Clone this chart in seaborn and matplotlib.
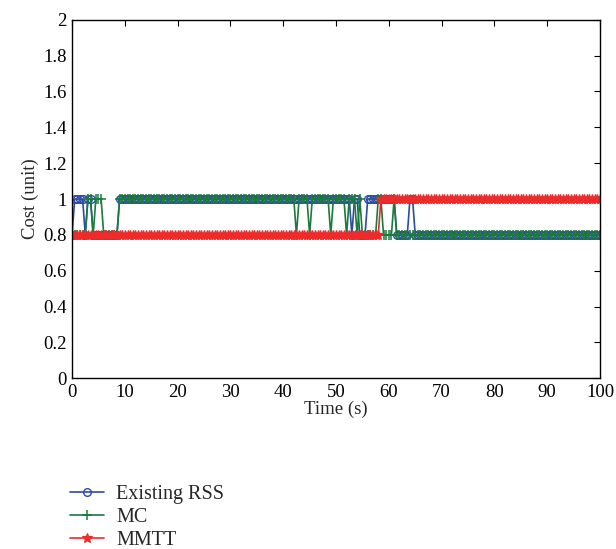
import numpy as np
import pandas as pd
import matplotlib
matplotlib.use("Agg")
import matplotlib.pyplot as plt
import seaborn as sns

# ------------------------------------------------------------
# Data: change points (time s, cost) -
# each level holds from that time until the next change point
# ------------------------------------------------------------
time_step = 0.5
time_max = 100

rss_changes = [(0.0, 0.8), (0.5, 1.0), (2.5, 0.8), (3.0, 1.0), (4.0, 0.8),
               (9.0, 1.0), (53.0, 0.8), (53.5, 1.0), (54.5, 0.8), (56.0, 1.0),
               (61.5, 0.8), (64.0, 1.0), (65.0, 0.8)]
mc_changes = [(0.0, 0.8), (3.0, 1.0), (4.0, 0.8), (4.5, 1.0), (6.0, 0.8),
              (9.0, 1.0), (42.5, 0.8), (43.0, 1.0), (45.0, 0.8), (45.5, 1.0),
              (49.0, 0.8), (49.5, 1.0), (52.0, 0.8), (52.5, 1.0), (54.0, 0.8),
              (54.5, 1.0), (55.0, 0.8), (58.0, 1.0), (59.0, 0.8), (61.0, 1.0),
              (61.5, 0.8)]
mmtt_changes = [(0.0, 0.8), (58.5, 1.0)]

series_names = ["Existing RSS", "MC", "MMTT"]
series_colors = ["#2B4BA5", "#1B7A3C", "#EE2B2B"]
y_ticks = [0, 0.2, 0.4, 0.6, 0.8, 1, 1.2, 1.4, 1.6, 1.8, 2]
x_ticks = [0, 10, 20, 30, 40, 50, 60, 70, 80, 90, 100]

times = np.arange(0, time_max + time_step / 2, time_step)


def expand(changes):
    starts = np.array([c[0] for c in changes])
    levels = np.array([c[1] for c in changes])
    return levels[np.searchsorted(starts, times, side="right") - 1]


df = pd.DataFrame({"Time": times,
                   "Existing RSS": expand(rss_changes),
                   "MC": expand(mc_changes),
                   "MMTT": expand(mmtt_changes)})

sns.set_theme(style="white")
plt.rcParams["font.family"] = ["Liberation Serif", "DejaVu Serif"]

fig = plt.figure(figsize=(6.16, 5.49), dpi=100)
ax = fig.add_axes([0.117, 0.311, 0.857, 0.653])

styles = [dict(marker="o", markersize=5.5, markerfacecolor="none", markeredgewidth=1.0),
          dict(marker="+", markersize=7, markeredgewidth=1.1),
          dict(marker="*", markersize=7, markeredgewidth=0.9)]

for name, color, st in zip(series_names, series_colors, styles):
    sns.lineplot(data=df, x="Time", y=name, ax=ax, color=color, linewidth=1.2,
                 label=name, markeredgecolor=color, **st)

ax.set_xlim(0, 100)
ax.set_ylim(0, 2)
ax.set_xticks(x_ticks)
ax.set_yticks(y_ticks)
ax.set_yticklabels([f"{v:g}" for v in y_ticks])
ax.set_xlabel("Time (s)", fontsize=13.5, labelpad=0)
ax.set_ylabel("Cost (unit)", fontsize=13.5, labelpad=3)
ax.tick_params(direction="in", length=4, width=0.8, top=True, right=True,
               labelsize=13.5, colors="black", pad=4)
for sp in ax.spines.values():
    sp.set_color("black")
    sp.set_linewidth(1.0)

handles, labels = ax.get_legend_handles_labels()
ax.legend_.remove()
fig.legend(handles, labels, loc="upper left", bbox_to_anchor=(0.1, 0.132),
           frameon=False, fontsize=14.5, handlelength=1.7, handletextpad=0.6,
           labelspacing=0.2, borderaxespad=0)

fig.savefig("out.png", dpi=100)
